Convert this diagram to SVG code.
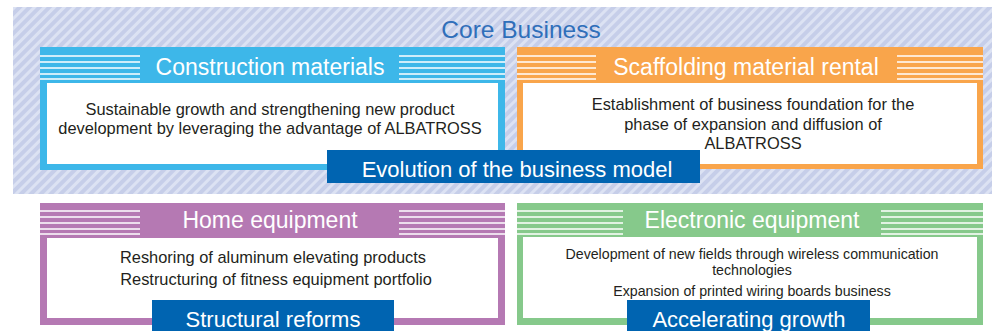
<svg xmlns="http://www.w3.org/2000/svg" width="992" height="331" viewBox="0 0 992 331">
  <style>
    .title { font-family: "Liberation Sans", Arial, sans-serif; font-size: 24.5px; fill: #2f6fba; }
    .head { font-family: "Liberation Sans", Arial, sans-serif; font-size: 23px; fill: #ffffff; }
    .body { font-family: "Liberation Sans", Arial, sans-serif; font-size: 16.4px; fill: #231f20; }
    .small { font-family: "Liberation Sans", Arial, sans-serif; font-size: 14.2px; fill: #231f20; }
    .tag { font-family: "Liberation Sans", Arial, sans-serif; font-size: 22px; fill: #ffffff; }
    .tagbox { fill: #0064b1; }
    .inner { fill: #ffffff; }
    .stripe { stroke: #ffffff; stroke-width: 1.6; }
  </style>
  <defs>
    <pattern id="hatch" patternUnits="userSpaceOnUse" width="7" height="7" patternTransform="rotate(45)">
      <rect width="7" height="7" fill="#c6cee9"/>
      <rect width="3" height="7" fill="#dce2f3"/>
    </pattern>
    <!-- five white rules used on both sides of each header band -->
    <g id="rules">
      <line class="stripe" x1="0" y1="9" x2="1" y2="9" stroke-width="2"/>
      <line class="stripe" x1="0" y1="15" x2="1" y2="15"/>
      <line class="stripe" x1="0" y1="21" x2="1" y2="21"/>
      <line class="stripe" x1="0" y1="27" x2="1" y2="27"/>
      <line class="stripe" x1="0" y1="32" x2="1" y2="32"/>
    </g>
  </defs>

  <!-- core business backdrop -->
  <g id="core-business">
    <rect x="13" y="7" width="979" height="187" fill="url(#hatch)"/>
    <text class="title" x="521" y="38" text-anchor="middle">Core Business</text>
  </g>

  <!-- Construction materials -->
  <g id="construction-materials">
    <rect x="40" y="47" width="465" height="123" fill="#3db7e9"/>
    <rect class="inner" x="47" y="83" width="451" height="81"/>
    <g transform="translate(40,47) scale(100,1)"><use href="#rules"/></g>
    <g transform="translate(399,47) scale(106,1)"><use href="#rules"/></g>
    <text class="head" x="270" y="75" text-anchor="middle">Construction materials</text>
    <text class="body" x="270" y="115" text-anchor="middle">Sustainable growth and strengthening new product</text>
    <text class="body" x="270" y="134" text-anchor="middle">development by leveraging the advantage of ALBATROSS</text>
  </g>

  <!-- Scaffolding material rental -->
  <g id="scaffolding-rental">
    <rect x="517" y="47" width="466" height="122" fill="#f9a54b"/>
    <rect class="inner" x="523" y="83" width="454" height="81"/>
    <g transform="translate(517,47) scale(79,1)"><use href="#rules"/></g>
    <g transform="translate(897,47) scale(86,1)"><use href="#rules"/></g>
    <text class="head" x="746" y="75" text-anchor="middle">Scaffolding material rental</text>
    <text class="body" x="753" y="110" text-anchor="middle">Establishment of business foundation for the</text>
    <text class="body" x="753" y="130" text-anchor="middle">phase of expansion and diffusion of</text>
    <text class="body" x="753" y="149" text-anchor="middle">ALBATROSS</text>
  </g>

  <!-- Evolution of the business model -->
  <g id="evolution-tag">
    <rect class="tagbox" x="327" y="150" width="373" height="33"/>
    <text class="tag" x="517" y="177" text-anchor="middle">Evolution of the business model</text>
  </g>

  <!-- Home equipment -->
  <g id="home-equipment">
    <rect x="40" y="203" width="465" height="122" fill="#b579b3"/>
    <rect class="inner" x="47" y="238" width="451" height="80"/>
    <g transform="translate(40,202) scale(100,1)"><use href="#rules"/></g>
    <g transform="translate(399,202) scale(106,1)"><use href="#rules"/></g>
    <text class="head" x="270" y="228" text-anchor="middle">Home equipment</text>
    <text class="body" x="273" y="263" text-anchor="middle">Reshoring of aluminum elevating products</text>
    <text class="body" x="276" y="285" text-anchor="middle">Restructuring of fitness equipment portfolio</text>
  </g>

  <!-- Structural reforms -->
  <g id="structural-tag">
    <rect class="tagbox" x="152" y="300" width="242" height="31"/>
    <text class="tag" x="273" y="327" text-anchor="middle">Structural reforms</text>
  </g>

  <!-- Electronic equipment -->
  <g id="electronic-equipment">
    <rect x="517" y="203" width="466" height="122" fill="#86c98b"/>
    <rect class="inner" x="523" y="237" width="454" height="81"/>
    <g transform="translate(517,202) scale(106,1)"><use href="#rules"/></g>
    <g transform="translate(881,202) scale(102,1)"><use href="#rules"/></g>
    <text class="head" x="752" y="228" text-anchor="middle">Electronic equipment</text>
    <text class="small" x="752" y="259" text-anchor="middle">Development of new fields through wireless communication</text>
    <text class="small" x="752" y="275" text-anchor="middle">technologies</text>
    <text class="small" x="752" y="296" text-anchor="middle">Expansion of printed wiring boards business</text>
  </g>

  <!-- Accelerating growth -->
  <g id="accelerating-tag">
    <rect class="tagbox" x="627" y="300" width="243" height="31"/>
    <text class="tag" x="749" y="327" text-anchor="middle">Accelerating growth</text>
  </g>

  <!-- no connectors in this layout -->
  <g id="connectors"/>
</svg>
